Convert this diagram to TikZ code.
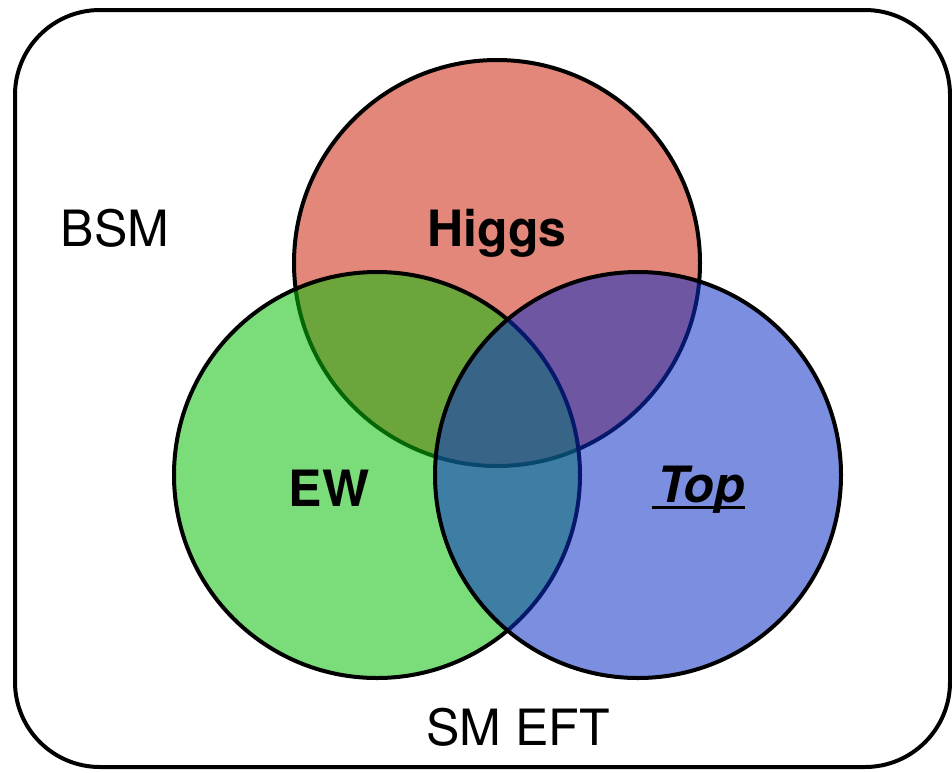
\documentclass[tikz,border=0pt]{standalone}
\usepackage{fontspec}
\setmainfont{TeX Gyre Heros}
\begin{document}
\begin{tikzpicture}[x=1pt,y=-1pt,
  venn/.style={draw=black,line width=4pt},
  lbl/.style={font=\fontsize{50}{60}\selectfont,inner sep=0pt,anchor=base},
  boldlbl/.style={lbl,font=\fontsize{50}{60}\selectfont\bfseries}]
\definecolor{higgsred}{RGB}{226,135,122}
\definecolor{ewgreen}{RGB}{10,192,10}
\definecolor{topblue}{RGB}{12,46,198}
\useasboundingbox (0,0) rectangle (952,772);
% outer frame
\draw[line width=4pt,rounded corners=85pt] (15,10) rectangle (950,767);
% the three sectors
\draw[venn,fill=higgsred] (497,263) circle (203);
\draw[venn,fill=ewgreen,fill opacity=0.54] (377,475) circle (203);
\draw[venn,fill=topblue,fill opacity=0.54] (638,475) circle (203);
% labels
\node[lbl] (bsm) at (115,246) {BSM};
\node[boldlbl] (higgs) at (497,246) {Higgs};
\node[boldlbl] (ew) at (329,506) {EW};
\node[boldlbl,font=\fontsize{50}{60}\selectfont\bfseries\itshape] (top) at (701,502) {Top};
\draw[line width=3pt] ([xshift=-5pt,yshift=-5pt]top.base west) -- ([yshift=-5pt]top.base east);
\node[lbl] (smeft) at (518,745) {SM EFT};
\end{tikzpicture}
\end{document}
